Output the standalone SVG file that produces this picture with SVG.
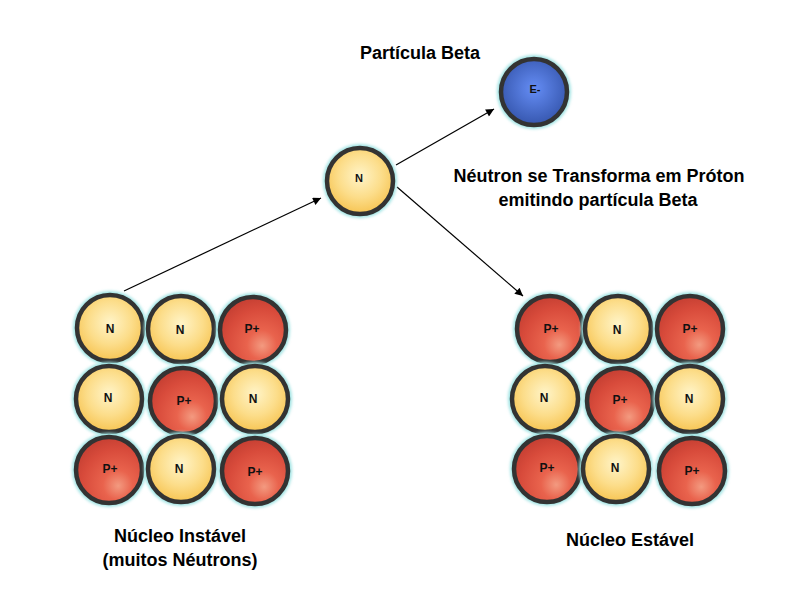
<svg xmlns="http://www.w3.org/2000/svg" width="800" height="600" viewBox="0 0 800 600">
<defs>
<radialGradient id="gN" cx="50%" cy="42%" r="60%">
<stop offset="0" stop-color="#FFF4C8"/>
<stop offset="0.55" stop-color="#FCDD8A"/>
<stop offset="1" stop-color="#F6C24E"/>
</radialGradient>
<radialGradient id="gP" cx="62%" cy="70%" r="75%" fx="64%" fy="74%">
<stop offset="0" stop-color="#F39A80"/>
<stop offset="0.3" stop-color="#E9634D"/>
<stop offset="0.7" stop-color="#D84B3B"/>
<stop offset="1" stop-color="#C23D31"/>
</radialGradient>
<radialGradient id="gE" cx="50%" cy="45%" r="60%">
<stop offset="0" stop-color="#658DF5"/>
<stop offset="1" stop-color="#3252A8"/>
</radialGradient>
<filter id="glow" x="-30%" y="-30%" width="160%" height="160%">
<feGaussianBlur stdDeviation="1.5"/>
</filter>
<marker id="arr" viewBox="0 0 10 10" refX="10" refY="5" markerWidth="10" markerHeight="8" markerUnits="userSpaceOnUse" orient="auto">
<path d="M0,0 L10,5 L0,10 z" fill="#000"/>
</marker>
</defs>
<style>
.halo{fill:#9ee3e3;filter:url(#glow)}
.n{fill:url(#gN);stroke:#333;stroke-width:4.5}
.p{fill:url(#gP);stroke:#333;stroke-width:4.5}
.e{fill:url(#gE);stroke:#333;stroke-width:4.5}
.t{font-family:"Liberation Sans",Arial,sans-serif;font-weight:bold;font-size:12px;fill:#111;text-anchor:middle}
.lbl{font-family:"Liberation Sans",Arial,sans-serif;font-weight:bold;font-size:18px;fill:#000;text-anchor:middle}
.con{stroke:#000;stroke-width:1.2;fill:none;marker-end:url(#arr)}
</style>
<rect width="800" height="600" fill="#fff"/>

<g id="connectors">
<line class="con" x1="124" y1="291" x2="321" y2="198"/>
<line class="con" x1="396" y1="165" x2="494" y2="109"/>
<line class="con" x1="397" y1="187" x2="523" y2="296"/>
</g>

<g id="neutron-center">
<circle class="halo" cx="360" cy="181" r="37"/>
<circle class="n" cx="360" cy="181" r="33"/>
<text class="t" x="359" y="182" style="font-size:11px">N</text>
</g>
<g id="electron">
<circle class="halo" cx="534" cy="92" r="37"/>
<circle class="e" cx="534" cy="92" r="33"/>
<text class="t" x="535" y="93" style="font-size:11px">E-</text>
</g>

<g id="nucleo-instavel">
<g id="l11"><circle class="halo" cx="110" cy="328" r="37"/><circle class="n" cx="110" cy="328" r="33"/><text class="t" x="110" y="333">N</text></g>
<g id="l12"><circle class="halo" cx="181" cy="329" r="37"/><circle class="n" cx="181" cy="329" r="33"/><text class="t" x="180" y="334">N</text></g>
<g id="l13"><circle class="halo" cx="253" cy="330" r="37"/><circle class="p" cx="253" cy="330" r="33"/><text class="t" x="252" y="333">P+</text></g>
<g id="l21"><circle class="halo" cx="109" cy="399" r="37"/><circle class="n" cx="109" cy="399" r="33"/><text class="t" x="108" y="402">N</text></g>
<g id="l22"><circle class="halo" cx="183" cy="401" r="37"/><circle class="p" cx="183" cy="401" r="33"/><text class="t" x="184" y="405">P+</text></g>
<g id="l23"><circle class="halo" cx="255" cy="399" r="37"/><circle class="n" cx="255" cy="399" r="33"/><text class="t" x="253" y="403">N</text></g>
<g id="l31"><circle class="halo" cx="109" cy="470" r="37"/><circle class="p" cx="109" cy="470" r="33"/><text class="t" x="110" y="473">P+</text></g>
<g id="l32"><circle class="halo" cx="181" cy="469" r="37"/><circle class="n" cx="181" cy="469" r="33"/><text class="t" x="179" y="473">N</text></g>
<g id="l33"><circle class="halo" cx="255" cy="471" r="37"/><circle class="p" cx="255" cy="471" r="33"/><text class="t" x="255" y="476">P+</text></g>
</g>

<g id="nucleo-estavel">
<g id="r11"><circle class="halo" cx="550" cy="329" r="37"/><circle class="p" cx="550" cy="329" r="33"/><text class="t" x="551" y="333">P+</text></g>
<g id="r12"><circle class="halo" cx="618" cy="329" r="37"/><circle class="n" cx="618" cy="329" r="33"/><text class="t" x="617" y="334">N</text></g>
<g id="r13"><circle class="halo" cx="690" cy="329" r="37"/><circle class="p" cx="690" cy="329" r="33"/><text class="t" x="690" y="333">P+</text></g>
<g id="r21"><circle class="halo" cx="545" cy="399" r="37"/><circle class="n" cx="545" cy="399" r="33"/><text class="t" x="544" y="402">N</text></g>
<g id="r22"><circle class="halo" cx="620" cy="401" r="37"/><circle class="p" cx="620" cy="401" r="33"/><text class="t" x="620" y="404">P+</text></g>
<g id="r23"><circle class="halo" cx="690" cy="399" r="37"/><circle class="n" cx="690" cy="399" r="33"/><text class="t" x="689" y="403">N</text></g>
<g id="r31"><circle class="halo" cx="547" cy="469" r="37"/><circle class="p" cx="547" cy="469" r="33"/><text class="t" x="547" y="472">P+</text></g>
<g id="r32"><circle class="halo" cx="616" cy="469" r="37"/><circle class="n" cx="616" cy="469" r="33"/><text class="t" x="615" y="472">N</text></g>
<g id="r33"><circle class="halo" cx="692" cy="471" r="37"/><circle class="p" cx="692" cy="471" r="33"/><text class="t" x="692" y="475">P+</text></g>
</g>

<g id="labels">
<text class="lbl" x="420" y="59">Partícula Beta</text>
<text class="lbl" x="599" y="182">Néutron se Transforma em Próton</text>
<text class="lbl" x="598" y="206">emitindo partícula Beta</text>
<text class="lbl" x="180" y="542">Núcleo Instável</text>
<text class="lbl" x="180" y="566">(muitos Néutrons)</text>
<text class="lbl" x="630" y="546">Núcleo Estável</text>
</g>
</svg>
